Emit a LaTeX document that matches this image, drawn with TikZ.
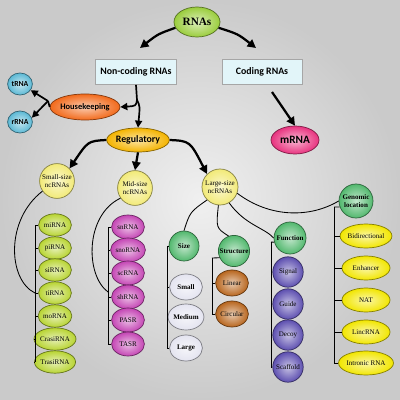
\documentclass[tikz,border=0pt]{standalone}
\usepackage{fontspec}
\setmainfont{Liberation Serif}
\newfontfamily\carlito{Carlito}
\usetikzlibrary{shapes.geometric,arrows.meta,shadows}
\definecolor{bgin}{HTML}{F0F0F0}
\definecolor{bgout}{HTML}{CACACA}
\definecolor{rnasG}{HTML}{9ACD3C}
\definecolor{ncbox}{HTML}{E2F5F9}
\definecolor{hkO}{HTML}{F26A1B}
\definecolor{tBlue}{HTML}{5BB8D4}
\definecolor{regY}{HTML}{F4B400}
\definecolor{mrnaP}{HTML}{E8337F}
\definecolor{sizeY}{HTML}{F2EA78}
\definecolor{smallG}{HTML}{B8D432}
\definecolor{midM}{HTML}{C445B4}
\definecolor{grn}{HTML}{52B86E}
\definecolor{wht}{HTML}{E4E4F0}
\definecolor{brn}{HTML}{B8661E}
\definecolor{prp}{HTML}{5D4FB0}
\definecolor{genY}{HTML}{F2E600}
\tikzset{
  gl/.style={ellipse, inner sep=0pt, align=center, draw=#1!55!black, line width=0.5pt,
    inner color=#1!35!white, outer color=#1},
  boxn/.style={rectangle, fill=ncbox, draw=gray!70, line width=0.6pt,
    minimum width=2cm, minimum height=0.625cm, font=\carlito\bfseries\fontsize{7}{8}\selectfont,
    drop shadow={shadow xshift=0.5pt, shadow yshift=-0.5pt, opacity=0.3}},
  bigarr/.style={line width=1.6pt, -{Triangle[length=6pt,width=6pt]}},
  smarr/.style={line width=1.2pt, -{Triangle[length=5pt,width=5pt]}},
  ln/.style={line width=0.6pt, black},
  lst/.style={gl=#1, minimum width=0.82cm, minimum height=0.56cm, font=\fontsize{5}{5.5}\selectfont},
  cat/.style={gl=grn, circle, font=\bfseries\fontsize{5}{5.5}\selectfont},
}
\begin{document}
\begin{tikzpicture}[x=0.025cm, y=-0.025cm]
\shade[inner color=bgin, outer color=bgout] (0,0) rectangle (400,400);
\useasboundingbox (0,0) rectangle (400,400);

% top level
\node[gl=rnasG, minimum width=1.15cm, minimum height=0.75cm, font=\bfseries\fontsize{8}{9}\selectfont] (rnas) at (197,22) {RNAs};
\node[boxn] (nc) at (136,72) {Non-coding RNAs};
\node[boxn] (cod) at (262,72) {Coding RNAs};
\node[gl=mrnaP, minimum width=1.2cm, minimum height=0.7cm, font=\carlito\bfseries\fontsize{8}{9}\selectfont] (mrna) at (295,140) {mRNA};
\node[gl=hkO, minimum width=1.4cm, minimum height=0.65cm, font=\carlito\bfseries\fontsize{6}{7}\selectfont] (hk) at (85,107) {Housekeeping};
\node[gl=tBlue, minimum width=0.62cm, minimum height=0.55cm, font=\carlito\bfseries\fontsize{5.5}{6}\selectfont] (trna) at (20,84) {tRNA};
\node[gl=tBlue, minimum width=0.62cm, minimum height=0.55cm, font=\carlito\bfseries\fontsize{5.5}{6}\selectfont] (rrna) at (20,122) {rRNA};
\node[gl=regY, minimum width=1.3cm, minimum height=0.6cm, font=\carlito\bfseries\fontsize{7}{8}\selectfont] (reg) at (138,140) {Regulatory};

\coordinate (ncA) at (140,48);
\coordinate (codA) at (256,48);
\draw[bigarr] (rnas.195) .. controls (158,34) .. (ncA);
\draw[bigarr] (rnas.-15) .. controls (238,34) .. (codA);
\coordinate (cs) at (272,92);
\draw[bigarr] (cs) -- (mrna.north);
\coordinate (split) at (137,100);
\draw[line width=1.2pt] (nc.south) -- (split);
\draw[smarr] (split) .. controls (136,106) .. (hk.east);
\draw[smarr] (split) .. controls (140,106) .. (reg.north);
\coordinate (hks) at (48,101);
\draw[line width=1.2pt] (hk.west) -- (hks);
\draw[smarr] (hks) -- (trna.-30);
\draw[smarr] (hks) -- (rrna.20);

% second level
\node[gl=sizeY, circle, minimum size=0.87cm, font=\fontsize{5}{5.5}\selectfont] (small) at (57,181) {Small-size\\ncRNAs};
\node[gl=sizeY, circle, minimum size=0.87cm, font=\fontsize{5}{5.5}\selectfont] (mid) at (135,188) {Mid-size\\ncRNAs};
\node[gl=sizeY, circle, minimum size=0.9cm, font=\fontsize{5}{5.5}\selectfont] (large) at (220,187) {Large-size\\ncRNAs};
\draw[bigarr] (reg.west) .. controls (88,141) .. (small.north east);
\draw[bigarr] (reg.south) -- (mid.north);
\draw[bigarr] (reg.east) .. controls (190,141) .. (large.north west);

% small-size list
\foreach \n/\t/\y in {mi/miRNA/225, pi/piRNA/248, si/siRNA/270, ti/tiRNA/293, mo/moRNA/316, cr/CrasiRNA/339, tr/TrasiRNA/362}
  \node[lst=smallG] (\n) at (55,\y) {\t};
\coordinate (sb1) at (35,225); \coordinate (sb2) at (35,362);
\draw[ln] (sb1) -- (sb2);
\foreach \n in {mi,pi,si,ti,mo,cr,tr} \draw[ln] (\n.west) -- (\n.west -| sb1);
\coordinate (sj) at (35,293);
\draw[ln] (small.215) .. controls (5,220) and (8,280) .. (sj);

% mid-size list
\foreach \n/\t/\y in {sn/snRNA/227, sno/snoRNA/250, sc/scRNA/273, sh/shRNA/297, pa/PASR/320, ta/TASR/344}
  \node[lst=midM, minimum height=0.6cm] (\n) at (128,\y) {\t};
\coordinate (mb1) at (108,227); \coordinate (mb2) at (108,344);
\draw[ln] (mb1) -- (mb2);
\foreach \n in {sn,sno,sc,sh,pa,ta} \draw[ln] (\n.west) -- (\n.west -| mb1);
\coordinate (mj) at (108,292);
\draw[ln] (mid.215) .. controls (85,215) and (85,275) .. (mj);

% large-size categories
\node[cat, minimum size=0.75cm] (size) at (184,246) {Size};
\node[cat, minimum size=0.78cm] (struct) at (234,251) {Structure};
\node[cat, minimum size=0.8cm] (func) at (290,238) {Function};
\node[cat, minimum size=0.85cm] (gen) at (356,201) {Genomic\\location};
\draw[ln] (large.225) .. controls (190,212) .. (size.north);
\draw[ln] (large.265) .. controls (216,228) .. (struct.110);
\draw[ln] (large.-60) .. controls (245,225) and (265,228) .. (func.west);
\draw[ln] (large.-20) .. controls (270,218) and (310,218) .. (gen.west);

% size children
\foreach \n/\t/\y in {sS/Small/287, sM/Medium/317, sL/Large/348}
  \node[gl=wht, minimum width=0.82cm, minimum height=0.65cm, font=\bfseries\fontsize{5}{5.5}\selectfont] (\n) at (186,\y) {\t};
\coordinate (zb1) at (167,246); \coordinate (zb2) at (167,348);
\draw[ln] (zb1) -- (zb2);
\foreach \n in {size,sS,sM,sL} \draw[ln] (\n.west) -- (\n.west -| zb1);

% structure children
\foreach \n/\t/\y in {lin/Linear/283, cir/Circular/314}
  \node[gl=brn, minimum width=0.82cm, minimum height=0.65cm, font=\fontsize{5}{5.5}\selectfont] (\n) at (232,\y) {\t};
\coordinate (tb1) at (212,258); \coordinate (tb2) at (212,314);
\draw[ln] (tb1) -- (tb2);
\draw[ln] (tb1) -- (struct.205);
\foreach \n in {lin,cir} \draw[ln] (\n.west) -- (\n.west -| tb1);

% function children
\foreach \n/\t/\y in {sig/Signal/272, gui/Guide/304, dec/Decoy/335, sca/Scaffold/367}
  \node[gl=prp, circle, minimum size=0.76cm, font=\fontsize{5}{5.5}\selectfont] (\n) at (288,\y) {\t};
\coordinate (fb1) at (271,242); \coordinate (fb2) at (271,367);
\draw[ln] (fb1) -- (fb2);
\draw[ln] (fb1) -- (func.195);
\foreach \n in {sig,gui,dec,sca} \draw[ln] (\n.west) -- (\n.west -| fb1);

% genomic children
\foreach \n/\t/\y in {bid/Bidirectional/236, enh/Enhancer/268, nat/NAT/300, linc/LincRNA/332, intr/Intronic RNA/363}
  \node[gl=genY, minimum width=1.2cm, minimum height=0.6cm, font=\fontsize{5}{5.5}\selectfont] (\n) at (366,\y) {\t};
\coordinate (gb1) at (334,207); \coordinate (gb2) at (334,363);
\draw[ln] (gb1) -- (gb2);
\draw[ln] (gb1) -- (gen.200);
\foreach \n in {bid,enh,nat,linc,intr} \draw[ln] (\n.west) -- (\n.west -| gb1);
\end{tikzpicture}
\end{document}
